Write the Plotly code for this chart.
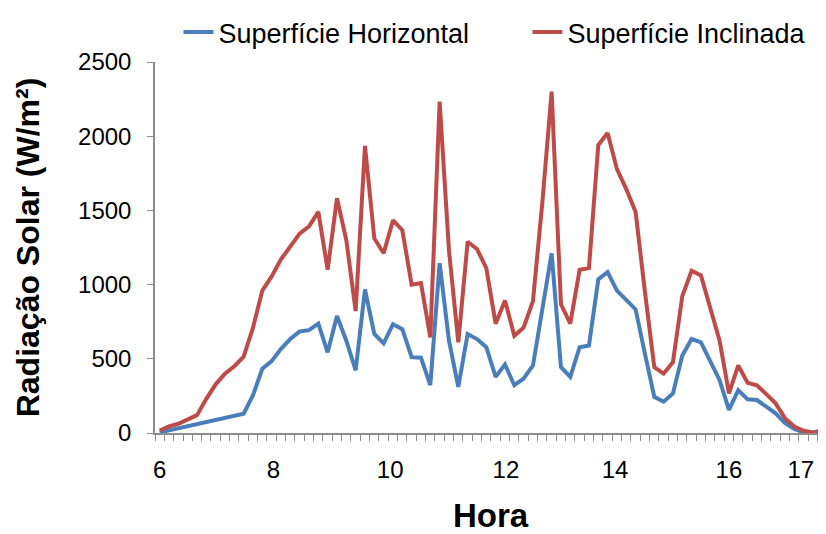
import plotly.graph_objects as go

# category index (10-min steps starting 6:00)
n_points = 72
horizontal = [4, 18, 32, 46, 60, 74, 88, 102, 116, 130,
              255, 433, 484, 567, 633, 684, 693, 737, 544, 789,
              622, 422, 967, 667, 604, 733, 700, 511, 507, 322,
              1144, 622, 311, 667, 633, 578, 378, 462, 322, 367,
              455, 822, 1211, 444, 378, 578, 589, 1035, 1084, 960,
              900, 833, 533, 244, 211, 267, 522, 633, 611, 489,
              356, 156, 289, 227, 222, 178, 133, 67, 27, 4,
              0, 0]
inclinada = [17, 45, 62, 88, 120, 230, 328, 400, 450, 515,
             710, 960, 1055, 1170, 1258, 1344, 1392, 1490, 1100, 1582,
             1300, 822, 1935, 1311, 1211, 1433, 1367, 1000, 1011, 644,
             2233, 1230, 611, 1289, 1240, 1111, 737, 893, 655, 711,
             889, 1550, 2300, 867, 737, 1100, 1111, 1940, 2022, 1778,
             1644, 1489, 950, 444, 400, 478, 922, 1093, 1062, 844,
             622, 267, 455, 338, 322, 262, 200, 100, 44, 15,
             4, 17]
hour_labels = ["6", "8", "10", "12", "14", "16", "17"]
hour_label_pos = [0, 12.2, 24.7, 37.1, 48.8, 61.0, 68.7]
y_ticks = [0, 500, 1000, 1500, 2000, 2500]

x = list(range(n_points))
boundaries = [i - 0.5 for i in range(n_points + 1)]
x_range = [-0.5, 71.4]
font_family = "Liberation Sans, Arial, sans-serif"
axis_color = "#8C8C8C"

fig = go.Figure()
fig.add_trace(go.Scatter(x=x, y=horizontal, mode="lines", name="Superfície Horizontal",
                         line=dict(color="#4A7EBB", width=4), legend="legend"))
fig.add_trace(go.Scatter(x=x, y=inclinada, mode="lines", name="Superfície Inclinada",
                         line=dict(color="#BE4B48", width=4), legend="legend2"))
# invisible trace to activate the label axis
fig.add_trace(go.Scatter(x=[x[0]], y=[horizontal[0]], xaxis="x2", mode="lines",
                         line=dict(width=0), showlegend=False, hoverinfo="skip"))

legend_common = dict(orientation="h", y=1.08, yanchor="middle", xanchor="left",
                     font=dict(size=27, family=font_family, color="black"),
                     bgcolor="rgba(0,0,0,0)")

fig.update_layout(
    width=818, height=526,
    margin=dict(l=147, r=0, t=50, b=101),
    paper_bgcolor="white", plot_bgcolor="white",
    font=dict(family=font_family, color="black"),
    legend=dict(x=0.035, **legend_common),
    legend2=dict(x=0.555, **legend_common),
    xaxis=dict(range=x_range, tickmode="array", tickvals=boundaries,
               ticktext=[""] * len(boundaries),
               ticks="outside", ticklen=6, tickcolor=axis_color, tickwidth=1,
               showline=True, linecolor=axis_color, linewidth=1.5,
               showgrid=False, zeroline=False, automargin=False),
    xaxis2=dict(range=x_range, overlaying="x", anchor="y", side="bottom",
                tickmode="array", tickvals=hour_label_pos, ticktext=hour_labels,
                ticks="", showline=False, showgrid=False, zeroline=False,
                tickfont=dict(size=24), ticklabelstandoff=20, automargin=False,
                title=dict(text="Hora", font=dict(size=33, weight="bold"), standoff=34)),
    yaxis=dict(range=[0, 2500], tickmode="array", tickvals=y_ticks,
               ticks="outside", ticklen=6, tickcolor=axis_color, showline=True,
               linecolor=axis_color, linewidth=1.5, showgrid=False, zeroline=False,
               tickfont=dict(size=24), ticklabelstandoff=11, automargin=False,
               title=dict(text="Radiação Solar (W/m²)", font=dict(size=32, weight="bold"), standoff=29)),
)

fig.write_html("out.html")
